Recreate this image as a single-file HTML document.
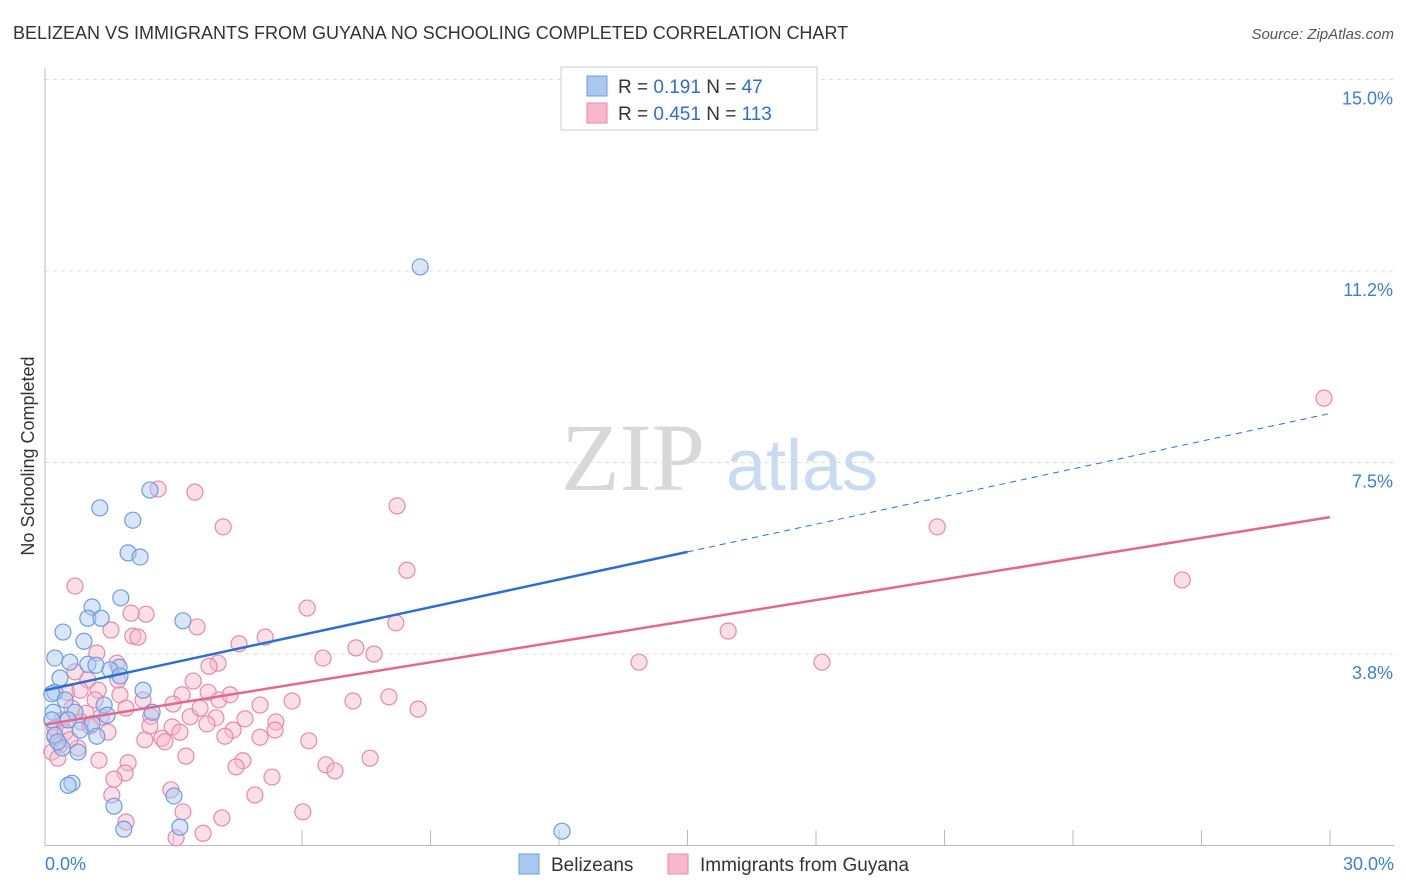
<!DOCTYPE html>
<html><head><meta charset="utf-8">
<style>
body{margin:0;background:#fff;font-family:"Liberation Sans",sans-serif;}
</style></head>
<body>
<svg id="chart" width="1406" height="892" xmlns="http://www.w3.org/2000/svg" style="display:block">
<text x="13" y="39" font-size="18" fill="#333">BELIZEAN VS IMMIGRANTS FROM GUYANA NO SCHOOLING COMPLETED CORRELATION CHART</text>
<text x="1394" y="39" font-size="15" font-style="italic" fill="#555" text-anchor="end">Source: ZipAtlas.com</text>
<g>
<text x="633" y="490" font-size="96" font-family="Liberation Serif" fill="#d8d8d8" text-anchor="middle">ZIP</text>
<text x="802" y="490" font-size="72" fill="#c9dbf3" text-anchor="middle">atlas</text>
</g>
<g id="grid"></g>
<g id="axes"></g>
<g id="points"></g>
<g id="lines"></g>
<text transform="translate(34,456) rotate(-90)" font-size="18" fill="#333" text-anchor="middle">No Schooling Completed</text>
<g>
<rect x="561" y="67" width="256" height="63" fill="#fff" stroke="#ccc"/>
<rect x="587" y="76" width="20" height="20" fill="#a9c8f0" stroke="#6d9de0"/>
<rect x="587" y="103" width="20" height="20" fill="#f7b8cb" stroke="#e88aa8"/>
<text x="618" y="93" font-size="19" fill="#333">R = <tspan fill="#2f6fd0"> 0.191</tspan>   N = <tspan fill="#2f6fd0"> 47</tspan></text>
<text x="618" y="120" font-size="19" fill="#333">R = <tspan fill="#2f6fd0">0.451</tspan>   N = <tspan fill="#2f6fd0">113</tspan></text>
</g>
<g>
<rect x="519" y="854" width="20" height="20" fill="#a9c8f0" stroke="#6d9de0"/>
<text x="551" y="871" font-size="19" fill="#333">Belizeans</text>
<rect x="668" y="854" width="20" height="20" fill="#f7b8cb" stroke="#e88aa8"/>
<text x="700" y="871" font-size="19" fill="#333">Immigrants from Guyana</text>
</g>
</svg>
<script>
const yTicks=[15,11.25,7.5,3.75];
const yTickLabels=["15.0%","11.2%","7.5%","3.8%"];
const xTicks=[0,3,6,9,12,15,18,21,24,27,30];
const xEndLabels=["0.0%","30.0%"];
const blueX=[8.76,2.45,1.28,2.05,1.94,2.22,1.77,1.10,1.00,1.31,3.22,0.42,0.91,0.23,0.58,1.00,1.19,1.73,1.52,0.35,1.75,2.29,0.23,0.16,0.47,1.38,0.19,0.70,2.50,1.45,0.16,0.54,1.10,0.82,1.21,0.40,0.77,0.63,0.54,1.61,3.01,1.84,3.15,12.07,0.23,0.30];
const blueY=[11.33,6.96,6.61,6.37,5.73,5.65,4.85,4.67,4.45,4.45,4.40,4.18,4.00,3.67,3.59,3.55,3.53,3.49,3.44,3.28,3.32,3.04,3.00,2.97,2.85,2.75,2.61,2.61,2.61,2.55,2.46,2.46,2.38,2.26,2.14,1.91,1.83,1.22,1.18,0.77,0.97,0.32,0.36,0.28,2.16,2.03];
const pinkX=[29.86,20.83,26.55,8.22,3.50,2.64,4.16,8.45,0.70,6.12,15.95,13.87,18.14,8.19,5.14,4.53,7.26,7.68,6.49,4.04,3.83,2.36,2.01,2.05,2.17,1.54,3.55,1.21,1.68,0.70,1.00,1.70,3.46,1.24,0.51,1.75,3.20,3.81,4.06,2.29,2.99,5.77,7.19,8.03,8.71,0.63,1.89,0.96,1.31,2.47,3.39,3.99,4.67,5.39,0.40,0.84,1.05,1.47,2.97,3.15,3.78,4.39,5.37,2.73,2.33,4.20,5.02,6.16,0.23,0.35,0.16,0.77,3.29,1.26,1.94,4.62,4.46,6.56,6.77,7.59,1.87,1.61,5.30,2.94,1.56,4.90,3.22,6.02,4.13,1.89,3.69,3.06,0.23,0.47,0.58,0.30,0.82,1.17,2.45,2.80,3.62,4.32,5.02];
const pinkY=[8.76,6.24,5.20,6.65,6.92,6.98,6.24,5.39,5.08,4.65,4.20,3.59,3.59,4.36,4.08,3.95,3.87,3.75,3.67,3.57,3.51,4.53,4.55,4.10,4.08,4.22,4.28,3.77,3.57,3.40,3.24,3.24,3.22,3.04,3.00,2.95,2.95,3.00,2.85,2.85,2.77,2.83,2.83,2.91,2.67,2.69,2.69,2.59,2.52,2.53,2.52,2.50,2.48,2.42,2.46,2.42,2.34,2.22,2.32,2.22,2.38,2.26,2.26,2.10,2.07,2.14,2.12,2.05,2.12,1.97,1.83,1.91,1.75,1.67,1.62,1.66,1.54,1.58,1.46,1.71,1.42,1.30,1.34,1.09,0.99,0.99,0.66,0.66,0.54,0.46,0.24,0.15,2.30,2.22,2.07,1.71,3.04,2.85,2.34,2.03,2.69,2.95,2.75];
const blueLine=[3.04,5.75,8.46]; // y at x=0,15,30
const pinkLine=[2.37,6.43];      // y at x=0,30

const NS="http://www.w3.org/2000/svg";
const X=v=>45+v/30*1285;
const Y=v=>845.5-v/3.75*191.5;
function mk(tag,attrs,parent){const e=document.createElementNS(NS,tag);for(const k in attrs)e.setAttribute(k,attrs[k]);parent.appendChild(e);return e;}
const grid=document.getElementById('grid'),axes=document.getElementById('axes'),pts=document.getElementById('points'),lines=document.getElementById('lines');
yTicks.forEach((t,i)=>{
 const l=mk('line',{x1:45,x2:1394,y1:Y(t),y2:Y(t),stroke:'#ddd','stroke-dasharray':'4,4'},grid);
 
 
 const tx=mk('text',{x:1393,y:Y(t)+25,'font-size':18,fill:'#3b7fd8','text-anchor':'end'},axes);
 tx.textContent=yTickLabels[i];
 
 
});
const ax=mk('line',{x1:45,x2:1394,y1:845.5,y2:845.5,stroke:'#bbb'},axes);


const ay=mk('line',{x1:45,x2:45,y1:68,y2:845.5,stroke:'#bbb'},axes);


xTicks.forEach(t=>{
 const l=mk('line',{x1:X(t),x2:X(t),y1:830,y2:845.5,stroke:'#bbb'},axes);
 
 
});
[[0,'start',45],[30,'end',1394]].forEach((d,i)=>{
 const tx=mk('text',{x:d[2],y:870,'font-size':18,fill:'#3b7fd8','text-anchor':d[1]},axes);
 tx.textContent=xEndLabels[i];
 
 
});
pinkX.forEach((v,i)=>{
 const c=mk('circle',{cx:X(v),cy:Y(pinkY[i]),r:8,fill:'#f7b8cb','fill-opacity':0.45,stroke:'#e88aa8','stroke-width':1.2},pts);
 
 
});
blueX.forEach((v,i)=>{
 const c=mk('circle',{cx:X(v),cy:Y(blueY[i]),r:8,fill:'#a9c8f0','fill-opacity':0.45,stroke:'#6d9de0','stroke-width':1.2},pts);
 
 
});
const b1=mk('line',{x1:X(0),y1:Y(blueLine[0]),x2:X(15),y2:Y(blueLine[1]),stroke:'#2a6fd6','stroke-width':2.5},lines);


const b2=mk('line',{x1:X(15),y1:Y(blueLine[1]),x2:X(30),y2:Y(blueLine[2]),stroke:'#2a6fd6','stroke-width':1,'stroke-dasharray':'6,5'},lines);


const p1=mk('line',{x1:X(0),y1:Y(pinkLine[0]),x2:X(30),y2:Y(pinkLine[1]),stroke:'#e5668f','stroke-width':2.5},lines);


</script>
</body></html>
